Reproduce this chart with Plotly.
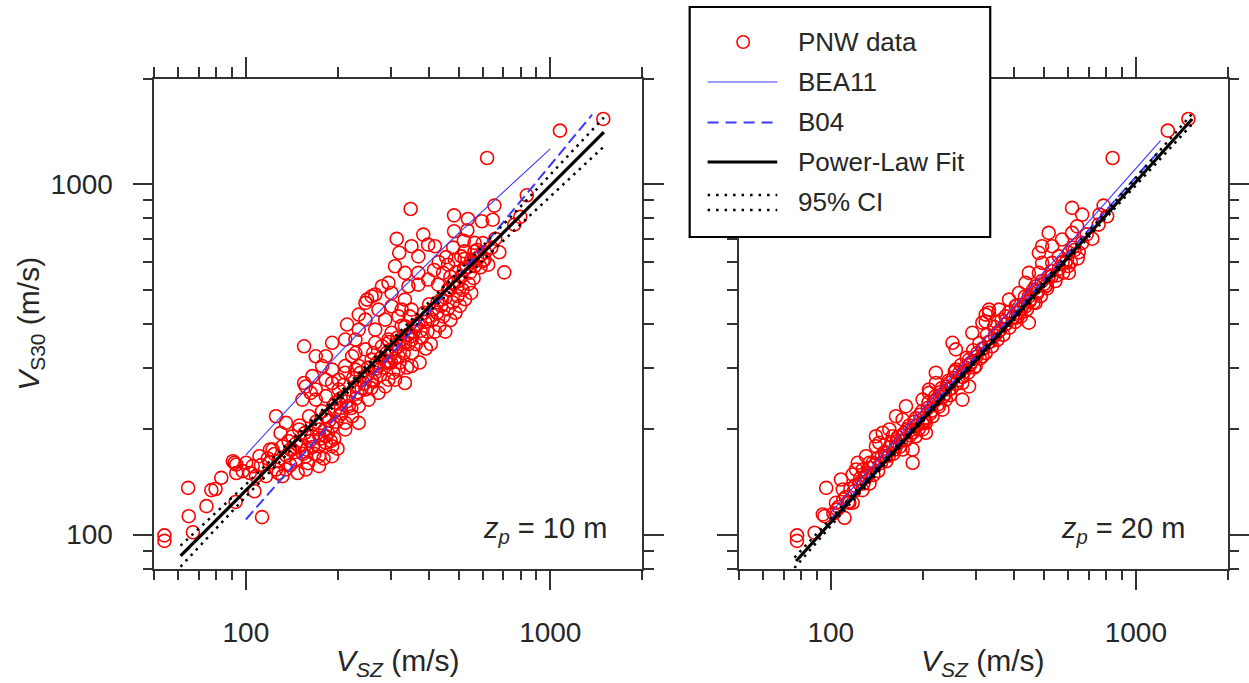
import math
import plotly.graph_objects as go

# ---------------- data ----------------
# Left panel: z_p = 10 m
left_x = [54, 54, 64.6, 64.9, 67, 77, 79.5, 74.2, 83, 91.8, 93, 92.5, 106.7, 113, 155.3,
          215, 234.8, 247, 266, 301, 333, 350, 317, 287, 266, 301, 333, 350, 317, 294, 294, 266, 247,
          229, 212, 192, 183, 178, 169.6, 155.3, 165.3, 192, 212, 202, 229, 247, 217.8, 202, 212, 192,
          183, 173.8, 192, 173.8, 157.3, 149.6, 142.2, 135.4, 125.6, 149.6, 161.3, 165.3, 142.2, 131.9,
          122.4, 119.4, 110.8, 105.3, 100.2, 97.7, 93, 90.6, 108, 116.4, 125.6, 135.4, 146, 131.9, 157.3,
          173.8, 183, 192, 173.8, 183, 169.6, 153.4, 163.3, 183, 197, 157.3, 169.6, 183, 202, 212, 234.8,
          223.3, 259, 247, 272.7, 301, 317, 287, 309, 350, 333, 272.7, 253, 234.8, 223.3, 234.8, 212, 259,
          359.5, 333, 234.8, 229, 266, 294, 325, 301, 272.7, 247, 192, 229,
          1493, 1076, 620, 347.8, 837.5, 797, 762, 706, 655, 483, 536.5, 596, 647, 483, 534, 564, 313,
          382.6, 397, 350, 418, 319, 368.6, 523, 510, 485.6, 523, 586, 600, 564, 461.6, 444.6, 333, 368.6,
          397, 309, 294, 280, 259, 250, 342, 368.6, 428, 461.6, 483, 564, 608,
          118, 124, 128, 136, 140, 145, 152, 158, 162, 168, 176, 180, 186, 195, 200, 138, 130, 150, 156,
          170, 178, 188, 196, 205, 160, 148, 128, 120, 112, 103,
          205, 210, 218, 225, 232, 238, 245, 252, 258, 262, 270, 276, 280, 285, 290, 296, 300, 305, 310,
          315, 320, 325, 330, 338, 342, 345, 352, 356, 362, 368, 372, 378, 385, 390, 395, 400, 405, 410,
          418, 425, 432, 440, 445, 452, 460, 470, 478, 488, 496, 505, 515, 525, 540, 550, 560,
          470, 490, 500, 520, 545, 560, 575, 590, 610, 625, 640, 660, 680, 520, 480, 455, 430, 415,
          140, 146, 154, 166, 174, 182, 190, 198, 206, 214, 222, 230, 240, 250, 260, 268, 278, 288, 298,
          308, 318, 328, 340, 350, 362, 375, 388, 398, 412, 426, 438, 452, 466, 480, 495, 510, 530, 550,
          575, 600]
left_y = [99.5, 96, 136, 112.9, 101.6, 134, 135, 120.6, 145.3, 160.4, 150, 124, 133, 112.2, 345,
          398, 425, 459, 485, 490, 469, 439, 420, 411, 385, 377, 353, 368.6, 323, 309, 277, 290, 338,
          330, 360.6, 353, 323, 303, 323, 271, 283.5, 296, 290, 259.7, 265, 259.7, 232.7, 217.8, 199.7, 204,
          191, 178.9, 167.5, 167.5, 167.5, 178.9, 191, 208.6, 217.8, 199.7, 217.8, 191, 175, 178.9,
          175, 160.4, 167.5, 156.9, 160.4, 151.8, 158.6, 162, 146.9, 146.9, 153.5, 153.5, 164, 146.9, 153.5,
          156.9, 183, 178.9, 199.7, 217.8, 243, 243, 254, 248.6, 238, 265, 259.7, 277, 277, 303, 303,
          323, 316, 283.5, 303, 338, 296, 265, 277, 303, 271, 254, 243, 232.7, 217.8, 208.6, 208.6, 277,
          393.6, 393.6, 385, 360.6, 353, 360.6, 439, 449, 439, 411, 271, 296,
          1538, 1424, 1190, 851, 931, 808, 768, 561, 870, 816, 797, 785, 793, 735, 740, 681, 699,
          719, 673, 666, 666, 638, 623, 644, 623, 610, 613, 623, 604, 644, 590, 559, 559, 559,
          535, 584, 523.6, 512, 479, 469, 512, 517.6, 517.6, 501, 523.6, 584, 610,
          165, 170, 162, 168, 158, 172, 180, 175, 185, 170, 188, 165, 195, 188, 176, 185, 195, 205, 195,
          210, 225, 212, 225, 230, 160, 150, 150, 175, 158, 150,
          245, 268, 250, 280, 255, 290, 270, 300, 262, 330, 310, 285, 345, 300, 330, 355, 310, 290, 340,
          365, 310, 395, 330, 300, 350, 420, 330, 380, 350, 400, 310, 365, 430, 340, 380, 455, 350, 410,
          380, 430, 395, 470, 420, 380, 440, 410, 460, 430, 480, 450, 500, 470, 520, 490, 540,
          545, 560, 530, 570, 560, 600, 650, 580, 640, 590, 660, 700, 640, 690, 660, 620, 600, 570,
          175, 182, 170, 178, 192, 200, 185, 210, 222, 240, 230, 245, 262, 285, 275, 298, 320, 312, 325,
          318, 345, 362, 372, 360, 395, 382, 405, 420, 440, 460, 450, 475, 500, 520, 510, 545, 580, 610,
          615, 680]

# Right panel: z_p = 20 m
right_x = [77.5, 77.5, 88.5, 95.4, 110.9, 96.6, 108, 109.5, 122.6, 118, 130.5, 140.6, 148, 140.6, 163.6,
           172, 155.6, 127.4, 137.3, 151.7, 163.6, 176.4, 190, 200, 185.5, 205, 185.5, 172, 200, 210, 221,
           221, 238.4, 244.4, 232.4, 215.7, 257, 270, 257, 284, 250.6, 291, 314, 330, 322, 356, 298.6, 314,
           270, 185.5, 118, 104, 94.2, 115, 159.6, 144.3, 133.8, 121, 130.5, 176.4, 200, 205, 221, 210,
           244.4, 284,
           1487, 1273, 839, 618, 784, 755, 805, 667, 667, 618, 642, 603, 603, 518, 493, 532, 573, 481, 559,
           588, 532, 493, 446, 481, 518, 435, 469, 505.5, 414, 446, 384, 403.6, 435, 469, 374, 330, 322,
           347, 403.6, 446,
           102, 106, 112, 116, 120, 125, 128, 132, 135, 138, 142, 146, 150, 155, 158, 162, 166, 170, 174,
           178, 182, 188, 192, 196, 202, 208, 212, 218, 224, 228, 234, 240, 246, 252, 258, 264, 270, 276,
           282, 288, 295, 302, 308, 315, 322, 330, 338, 345, 352, 360, 368, 376, 385, 394, 402, 412, 420,
           430, 440, 452, 462, 475, 488, 500, 512, 528, 545, 560, 578, 595, 612, 630, 650, 690, 720, 760,
           105, 110, 114, 119, 124, 127, 131, 134, 139, 143, 147, 152, 156, 160, 164, 168, 172, 176, 181,
           186, 190, 194, 199, 204, 209, 214, 220, 226, 231, 237, 243, 249, 255, 261, 267, 273, 279, 286,
           293, 300, 307, 316, 325, 334, 343, 353, 363, 373, 384, 396, 408, 420, 433, 447, 460, 475, 492,
           510, 530, 552, 575, 600, 620, 645]
right_y = [99.5, 96, 101.3, 112.9, 111.7, 136, 143.7, 134.6, 160.4, 148.5, 167.5, 178.9, 195.4, 191, 217.8,
           213.3, 199.7, 153.5, 160.4, 167.5, 178.9, 187, 191, 199.7, 199.7, 208.6, 175, 175, 243, 259.7, 290,
           271, 243, 259.7, 227.5, 217.8, 296, 271, 338, 316, 353, 377, 403, 439, 425, 439, 303, 323,
           243, 160.4, 123.3, 123.3, 114.2, 123.3, 191, 183, 160.4, 153.5, 146.9, 232.7, 208.6, 195.4, 243, 254,
           271, 265,
           1538, 1424, 1190, 857, 870, 768, 811, 820, 681, 727, 759, 638, 559, 727, 666, 666, 696, 638, 623,
           597, 597, 597, 559, 559, 546, 523.6, 512, 512, 490, 479, 469, 449, 449, 459, 420, 430, 406,
           406, 416, 403,
           115, 120, 128, 135, 138, 145, 140, 150, 155, 148, 165, 160, 172, 168, 182, 175, 190, 185, 195,
           200, 192, 210, 205, 220, 215, 230, 222, 240, 235, 255, 248, 265, 250, 280, 270, 290, 282, 300,
           290, 310, 300, 330, 318, 340, 330, 355, 345, 370, 360, 385, 372, 400, 390, 415, 405, 430, 420,
           455, 440, 470, 460, 495, 480, 520, 505, 545, 530, 575, 560, 610, 600, 650, 640, 720, 700, 820,
           118, 126, 124, 133, 140, 134, 146, 140, 158, 152, 168, 162, 178, 170, 184, 178, 192, 186, 205,
           196, 215, 200, 225, 212, 238, 226, 248, 232, 262, 252, 275, 262, 292, 276, 305, 292, 320, 305,
           336, 322, 352, 340, 372, 356, 392, 378, 410, 398, 432, 418, 452, 440, 478, 462, 500, 488, 530,
           515, 565, 550, 600, 585, 660, 615]

# model curves
left_bea11_x = [100, 200, 300, 500, 1000]
left_bea11_y = [169, 326, 470, 726, 1263]
left_b04_x = [100, 423, 1372]
left_b04_y = [110.5, 459, 1582]
left_fit_x = [61, 1500]
left_fit_y = [87, 1411]
left_ci_x = [61, 100, 200, 400, 800, 1500]
left_ci_up = [93, 139, 250.5, 462, 866, 1553]
left_ci_lo = [81, 128.5, 238.4, 431.7, 770.6, 1283]

right_bea11_x = [100, 244, 1205]
right_bea11_y = [115.5, 277, 1334]
right_b04_x = [100, 1200]
right_b04_y = [110.5, 1255]
right_fit_x = [77, 1530]
right_fit_y = [84.1, 1538]
right_ci_x = [76, 100, 200, 400, 800, 1530]
right_ci_up = [86, 111.2, 216.2, 424.4, 837, 1592]
right_ci_lo = [80.3, 105.9, 209.9, 411.9, 804.6, 1486]

x_range = [50, 2000]
y_range = [80, 2000]
major_ticks = [100, 1000]
x_minor = [50, 60, 70, 80, 90, 200, 300, 400, 500, 600, 700, 800, 900, 2000]
y_minor = [80, 90, 200, 300, 400, 500, 600, 700, 800, 900, 2000]

legend_labels = ["PNW data", "BEA11", "B04", "Power-Law Fit", "95% CI"]

# ---------------- styling ----------------
W, H = 1249, 683
RED = "#ff0000"
BLUE = "#3a3aff"
AX = "#333333"
TXT = "#262626"
FONT = "Liberation Sans, Arial, sans-serif"


def px(x):
    return x / W


def py(y):
    return 1 - y / H


fig = go.Figure()


def add_panel(xs, ys, bx, by, b4x, b4y, fx, fy, cx, cu, cl, xa, ya):
    fig.add_trace(go.Scatter(x=xs, y=ys, mode="markers", xaxis=xa, yaxis=ya,
                             marker=dict(symbol="circle-open", size=13, color=RED,
                                         line=dict(width=1.6, color=RED)),
                             showlegend=False, hoverinfo="skip"))
    fig.add_trace(go.Scatter(x=bx, y=by, mode="lines", xaxis=xa, yaxis=ya,
                             line=dict(color=BLUE, width=1.1), showlegend=False))
    fig.add_trace(go.Scatter(x=b4x, y=b4y, mode="lines", xaxis=xa, yaxis=ya,
                             line=dict(color=BLUE, width=2, dash="11px,5px"), showlegend=False))
    fig.add_trace(go.Scatter(x=cx, y=cu, mode="lines", xaxis=xa, yaxis=ya,
                             line=dict(color="black", width=2.5, dash="2.5px,5px"), showlegend=False))
    fig.add_trace(go.Scatter(x=cx, y=cl, mode="lines", xaxis=xa, yaxis=ya,
                             line=dict(color="black", width=2.5, dash="2.5px,5px"), showlegend=False))
    fig.add_trace(go.Scatter(x=fx, y=fy, mode="lines", xaxis=xa, yaxis=ya,
                             line=dict(color="black", width=3.2), showlegend=False))


add_panel(left_x, left_y, left_bea11_x, left_bea11_y, left_b04_x, left_b04_y,
          left_fit_x, left_fit_y, left_ci_x, left_ci_up, left_ci_lo, "x", "y")
add_panel(right_x, right_y, right_bea11_x, right_bea11_y, right_b04_x, right_b04_y,
          right_fit_x, right_fit_y, right_ci_x, right_ci_up, right_ci_lo, "x2", "y2")

tickfont = dict(family=FONT, size=28, color=TXT)


def axis(domain, rng, minor_vals, anchor, labels=True, standoff=26):
    return dict(type="log", domain=domain, anchor=anchor,
                range=[math.log10(rng[0]), math.log10(rng[1])],
                tickmode="array", tickvals=major_ticks,
                ticktext=[str(v) for v in major_ticks],
                ticks="outside", ticklen=20, tickwidth=1.5, tickcolor=AX,
                showline=True, linecolor=AX, linewidth=1.5, mirror="allticks",
                showgrid=False, zeroline=False, showticklabels=labels,
                tickfont=tickfont, ticklabelstandoff=standoff,
                minor=dict(tickmode="array", tickvals=minor_vals, ticks="outside",
                           ticklen=10, tickwidth=1.5, tickcolor=AX, showgrid=False))


ydom = [py(568.6), py(79)]
fig.update_layout(
    width=W, height=H, margin=dict(l=0, r=0, t=0, b=0),
    paper_bgcolor="white", plot_bgcolor="white", showlegend=False,
    xaxis=axis([px(155), px(645)], x_range, x_minor, "y", standoff=18),
    yaxis=axis(ydom, y_range, y_minor, "x", standoff=14),
    xaxis2=axis([px(742.5), px(1233.6)], x_range, x_minor, "y2", standoff=18),
    yaxis2=axis(ydom, y_range, y_minor, "x2", labels=False),
)

ann = []
title_font = dict(family=FONT, size=30, color=TXT)
ann.append(dict(text="<i>V</i><sub><i>SZ</i></sub> (m/s)", x=px(400), y=py(662), xref="paper", yref="paper",
                xanchor="center", yanchor="middle", showarrow=False, font=title_font))
ann.append(dict(text="<i>V</i><sub><i>SZ</i></sub> (m/s)", x=px(988), y=py(662), xref="paper", yref="paper",
                xanchor="center", yanchor="middle", showarrow=False, font=title_font))
ann.append(dict(text="<i>V</i><sub>S30</sub> (m/s)", x=px(30), y=py(324), xref="paper", yref="paper",
                xanchor="center", yanchor="middle", showarrow=False, font=title_font, textangle=-90))
zfont = dict(family=FONT, size=29, color=TXT)
ann.append(dict(text="<i>z<sub>p</sub></i> = 10 m", x=px(612), y=py(530), xref="paper", yref="paper",
                xanchor="right", yanchor="middle", showarrow=False, font=zfont))
ann.append(dict(text="<i>z<sub>p</sub></i> = 20 m", x=px(1193), y=py(530), xref="paper", yref="paper",
                xanchor="right", yanchor="middle", showarrow=False, font=zfont))

# legend (manual)
shapes = []
shapes.append(dict(type="rect", xref="paper", yref="paper", x0=px(693), x1=px(995), y0=py(237), y1=py(7),
                   line=dict(color="black", width=2.2), fillcolor="white", layer="above"))
rows = [42, 82, 122, 162, 202]
shapes.append(dict(type="circle", xref="paper", yref="paper", x0=px(740.5), x1=px(753), y0=py(48.3), y1=py(35.7),
                   line=dict(color=RED, width=1.6), layer="above"))
shapes.append(dict(type="line", xref="paper", yref="paper", x0=px(711), x1=px(781), y0=py(82), y1=py(82),
                   line=dict(color=BLUE, width=1.1), layer="above"))
shapes.append(dict(type="line", xref="paper", yref="paper", x0=px(711), x1=px(781), y0=py(122.5), y1=py(122.5),
                   line=dict(color=BLUE, width=2, dash="11px,7px"), layer="above"))
shapes.append(dict(type="line", xref="paper", yref="paper", x0=px(711), x1=px(781), y0=py(162), y1=py(162),
                   line=dict(color="black", width=3.2), layer="above"))
for yy in (195, 210):
    shapes.append(dict(type="line", xref="paper", yref="paper", x0=px(711), x1=px(781), y0=py(yy), y1=py(yy),
                       line=dict(color="black", width=2.5, dash="2.5px,6px"), layer="above"))
leg_font = dict(family=FONT, size=26, color=TXT)
for lab, r in zip(legend_labels, rows):
    ann.append(dict(text=lab, x=px(800), y=py(r), xref="paper", yref="paper", xanchor="left",
                    yanchor="middle", showarrow=False, font=leg_font))

fig.update_layout(annotations=ann, shapes=shapes)
fig.write_html("out.html")
